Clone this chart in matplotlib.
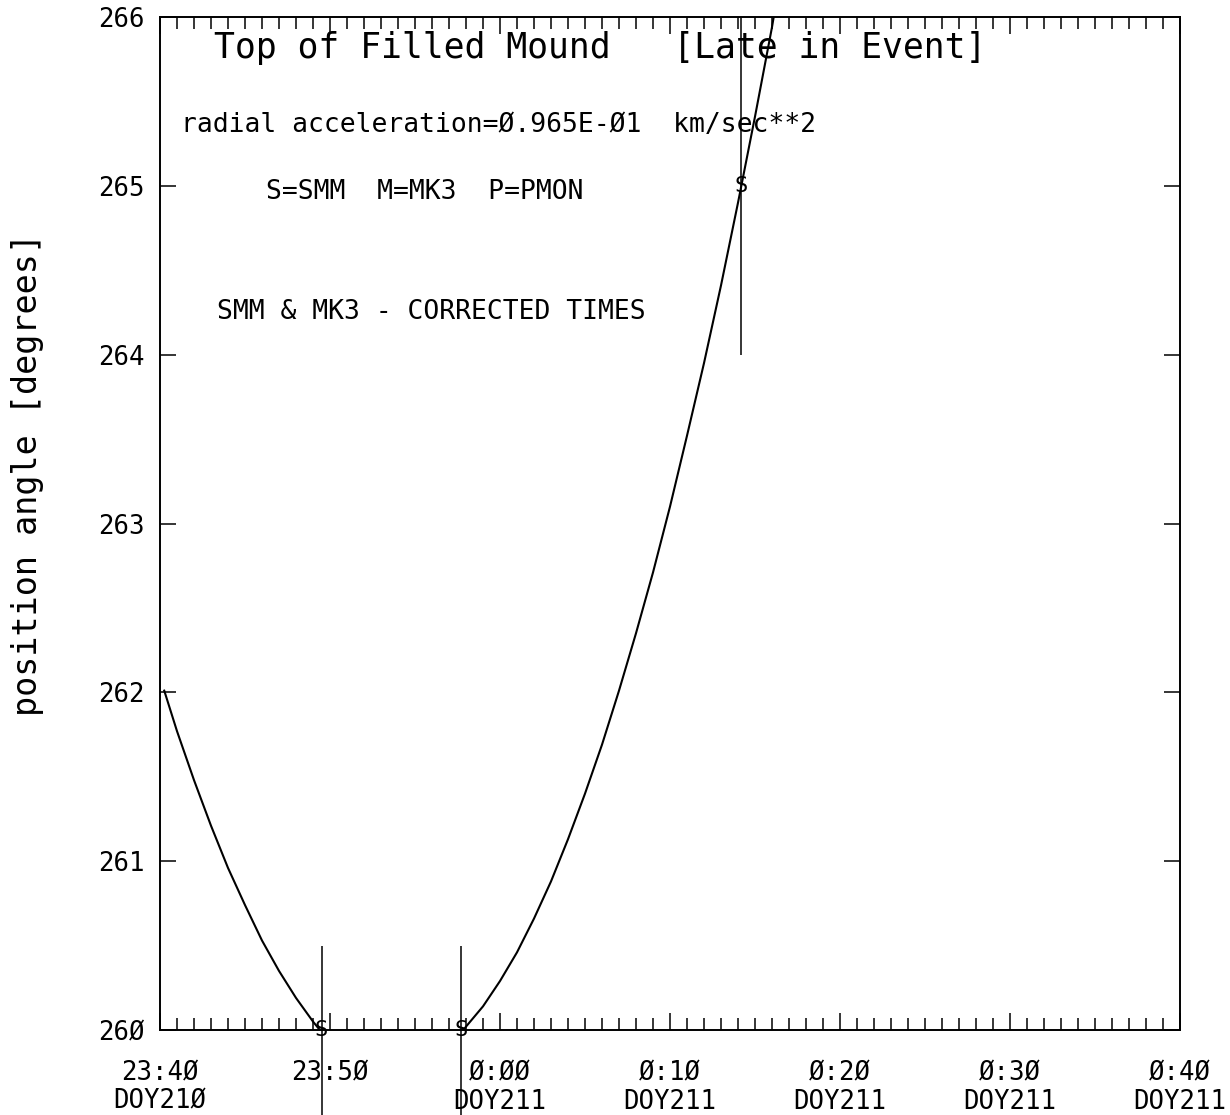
import matplotlib
matplotlib.use('Agg')
import matplotlib.pyplot as plt
from matplotlib.ticker import FixedLocator, MultipleLocator, NullLocator

plt.rcParams['font.family'] = ['DejaVu Sans Mono', 'DejaVu Sans']

# ---- data (time in minutes after 23:40 DOY210, position angle in degrees) ----
fit_left_t = [0.25, 1, 2, 3, 4, 5, 6, 7, 8, 9, 9.4]
fit_left_pa = [262.01, 261.77, 261.48, 261.21, 260.96, 260.74, 260.53,
               260.35, 260.19, 260.05, 260.00]
fit_right_t = [17.85, 18, 19, 20, 21, 22, 23, 24, 25, 26, 27, 28, 29, 30,
               31, 32, 33, 34, 35, 36, 36.1]
fit_right_pa = [260.00, 260.02, 260.14, 260.29, 260.46, 260.66, 260.88,
                261.13, 261.40, 261.69, 262.01, 262.35, 262.71, 263.10,
                263.52, 263.95, 264.41, 264.90, 265.41, 265.94, 266.00]

smm_t = [9.5, 17.7, 34.2]
smm_pa = [260.0, 260.0, 265.0]
smm_err_lo = [0.6, 0.6, 1.0]
smm_err_hi = [0.5, 0.5, 1.0]
smm_sym = ['S', 'S', 'S']

xtick_min = [0, 10, 20, 30, 40, 50, 60]
xtick_labels = ['23:4Ø\nDOY21Ø', '23:5Ø', 'Ø:ØØ\nDOY211', 'Ø:1Ø\nDOY211',
                'Ø:2Ø\nDOY211', 'Ø:3Ø\nDOY211', 'Ø:4Ø\nDOY211']
ytick_vals = [260, 261, 262, 263, 264, 265, 266]
ytick_labels = ['26Ø', '261', '262', '263', '264', '265', '266']

title_text = 'Top of Filled Mound   [Late in Event]'
accel_text = 'radial acceleration=Ø.965E-Ø1  km/sec**2'
key_text = 'S=SMM  M=MK3  P=PMON'
note_text = 'SMM & MK3 - CORRECTED TIMES'
ylabel_text = 'position angle [degrees]'

# ---- figure ----
W, H = 1230, 1115
fig = plt.figure(figsize=(W / 100, H / 100), dpi=100)
L, R, T, B = 160, 1180, 17, 1030
ax = fig.add_axes([L / W, (H - B) / H, (R - L) / W, (B - T) / H])

ax.plot(fit_left_t, fit_left_pa, color='black', lw=1.5,
        solid_joinstyle='round')
ax.plot(fit_right_t, fit_right_pa, color='black', lw=1.5,
        solid_joinstyle='round')

eb = ax.errorbar(smm_t, smm_pa, yerr=[smm_err_lo, smm_err_hi], fmt='none',
                 ecolor='black', elinewidth=1.1, capsize=0)
for c in eb.lines[2]:
    c.set_clip_on(False)
for t, p, s in zip(smm_t, smm_pa, smm_sym):
    ax.text(t, p, s, ha='center', va='center', fontsize=16, clip_on=False)

ax.set_xlim(0, 60)
ax.set_ylim(260, 266)
ax.xaxis.set_major_locator(FixedLocator(xtick_min))
ax.set_xticklabels(xtick_labels, fontsize=18.5, linespacing=1.1)
ax.xaxis.set_minor_locator(MultipleLocator(1))
ax.yaxis.set_major_locator(FixedLocator(ytick_vals))
ax.set_yticklabels(ytick_labels, fontsize=18.5)
ax.yaxis.set_minor_locator(NullLocator())

ax.tick_params(axis='x', which='major', direction='in', length=12, width=1.1,
               top=True, bottom=True, pad=22)
ax.tick_params(axis='x', which='minor', direction='in', length=8.5, width=1.1,
               top=True, bottom=True)
ax.tick_params(axis='y', which='major', direction='in', length=11.5, width=1.1,
               left=True, right=True, pad=11)
for sp in ax.spines.values():
    sp.set_linewidth(1.4)

ax.set_ylabel(ylabel_text, fontsize=24, ha='center', va='center')
ax.yaxis.set_label_coords((27 - L) / (R - L), (B - 475) / (B - T))

def axfrac(px, py):
    return (px - L) / (R - L), (B - py) / (B - T)

ax.text(*axfrac(214, 58), title_text, fontsize=25, ha='left', va='baseline',
        transform=ax.transAxes)
ax.text(*axfrac(181, 132), accel_text, fontsize=19, ha='left', va='baseline',
        transform=ax.transAxes)
ax.text(*axfrac(266, 199), key_text, fontsize=19, ha='left', va='baseline',
        transform=ax.transAxes)
ax.text(*axfrac(217, 319), note_text, fontsize=19, ha='left', va='baseline',
        transform=ax.transAxes)

fig.savefig('out.png', dpi=100)
